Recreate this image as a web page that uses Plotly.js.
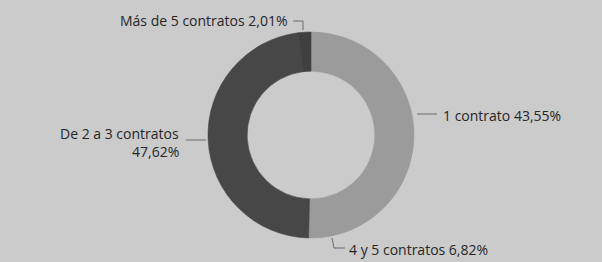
<!DOCTYPE html>
<html>
<head>
<meta charset="utf-8">
<script src="https://cdn.plot.ly/plotly-3.0.1.min.js"></script>
<style>
  html, body { margin: 0; padding: 0; background: #cbcbcb; }
  #chart { width: 602px; height: 262px; }
</style>
</head>
<body>
<div id="chart"></div>
<script>
const categories = ["1 contrato", "4 y 5 contratos", "De 2 a 3 contratos", "Más de 5 contratos"];
const values = [43.55, 6.82, 47.62, 2.01];
const valueLabels = ["43,55%", "6,82%", "47,62%", "2,01%"];
const sliceColors = ["#9b9b9b", "#9b9b9b", "#474747", "#404040"];

const W = 602, H = 262;
const px = x => x / W;
const py = y => 1 - y / H;

const trace = {
  type: "pie",
  labels: categories,
  values: values,
  sort: false,
  direction: "clockwise",
  rotation: 0,
  hole: 0.62,
  textinfo: "none",
  hoverinfo: "label+percent",
  marker: { colors: sliceColors, line: { color: sliceColors, width: 0.6 } },
  domain: { x: [px(208), px(414)], y: [py(238), py(32)] },
  showlegend: false
};

const font = { family: "Open Sans, DejaVu Sans, sans-serif", size: 14, color: "#262626" };

const annotations = [
  { x: px(118), y: py(21), xanchor: "left", text: categories[3] + " " + valueLabels[3] },
  { x: px(441), y: py(115), xanchor: "left", text: categories[0] + " " + valueLabels[0] },
  { x: px(347), y: py(249), xanchor: "left", text: categories[1] + " " + valueLabels[1] },
  { x: px(181), y: py(133), xanchor: "right", text: categories[2] },
  { x: px(181), y: py(151), xanchor: "right", text: valueLabels[2] }
].map(a => Object.assign({ xref: "paper", yref: "paper", yanchor: "middle", showarrow: false, font: font }, a));

const lineStyle = { color: "#6a6a6a", width: 1 };
function path(points) {
  return "M " + points.map(p => px(p[0]) + "," + py(p[1])).join(" L ");
}
const shapes = [
  [[293, 21], [303, 21], [303, 30]],
  [[417, 114], [437, 114]],
  [[332, 238], [334, 248], [345, 248]],
  [[186, 140], [206, 140]]
].map(pts => ({ type: "path", xref: "paper", yref: "paper", path: path(pts), line: lineStyle }));

const layout = {
  width: W, height: H,
  margin: { l: 0, r: 0, t: 0, b: 0 },
  paper_bgcolor: "#cbcbcb",
  plot_bgcolor: "#cbcbcb",
  annotations: annotations,
  shapes: shapes
};

Plotly.newPlot("chart", [trace], layout, { displayModeBar: false, staticPlot: true });
</script>
</body>
</html>
